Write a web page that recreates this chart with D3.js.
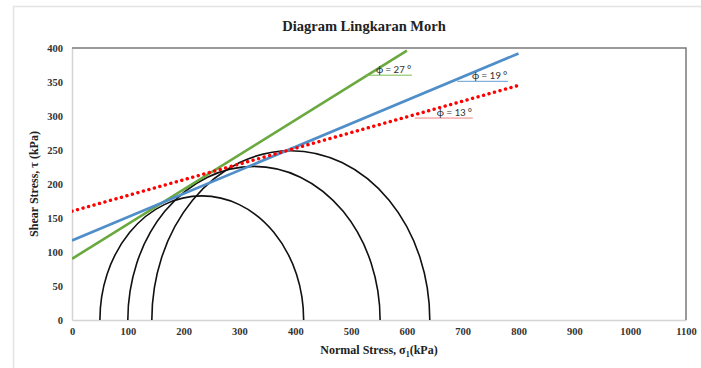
<!DOCTYPE html>
<html>
<head>
<meta charset="utf-8">
<script src="https://cdn.jsdelivr.net/npm/d3@7"></script>
<style>
  html, body { margin: 0; padding: 0; background: #fff; }
  svg { display: block; }
</style>
</head>
<body>
<svg id="chart" width="701" height="368"></svg>
<script>
// Mohr circles: minor and major principal stresses (kPa)
const sigma3 = [50, 100, 143];
const sigma1 = [415, 552, 641];

// Failure envelopes: end points (sigma, tau) in kPa
const envelopeNames = ["phi27", "phi19", "phi13"];
const envelopeSigma = [[0, 600], [0, 800], [0, 800]];
const envelopeTau = [[90, 396], [117, 392], [160, 345]];

// Envelope annotations
const annotText = ["\u03d5 = 27 \u00b0", "\u03d5 = 19 \u00b0", "\u03d5 = 13 \u00b0"];
const annotSigma = [[525, 609], [690, 781], [614, 718]];
const annotTau = [360, 351, 297];

// Axis ticks
const xTicks = [0, 100, 200, 300, 400, 500, 600, 700, 800, 900, 1000, 1100];
const yTicks = [0, 50, 100, 150, 200, 250, 300, 350, 400];

const svg = d3.select("#chart");
const plot = { left: 72, right: 686, top: 48, bottom: 320 };

const x = d3.scaleLinear().domain([0, 1100]).range([plot.left, plot.right]);
const y = d3.scaleLinear().domain([0, 400]).range([plot.bottom, plot.top]);

const styles = {
  phi27: { color: "#6aa840", width: 2.6, dash: null },
  phi19: { color: "#4f8ec9", width: 2.6, dash: null },
  phi13: { color: "#ff0000", width: 3.4, dash: "0.1 5.6" }
};
const annotColors = ["#7dbb55", "#6a9fd4", "#f08080"];

// outer chart frame
svg.append("rect")
  .attr("x", 13.5).attr("y", 6.5)
  .attr("width", 700).attr("height", 380)
  .attr("fill", "#fff").attr("stroke", "#e3e3e3").attr("stroke-width", 1.5);

// title
svg.append("text")
  .attr("x", 364).attr("y", 31)
  .attr("text-anchor", "middle")
  .attr("font-family", "'Liberation Serif', 'Times New Roman', serif")
  .attr("font-weight", "bold").attr("font-size", 14.5)
  .attr("fill", "#222")
  .text("Diagram Lingkaran  Morh");

// clip region for plotted series
svg.append("clipPath").attr("id", "plotClip")
  .append("rect")
  .attr("x", plot.left).attr("y", plot.top)
  .attr("width", plot.right - plot.left).attr("height", plot.bottom - plot.top);

// axes
const fmt = d3.format("d");
const xAxis = d3.axisBottom(x).tickValues(xTicks).tickFormat(fmt).tickSize(0).tickPadding(8);
const yAxis = d3.axisLeft(y).tickValues(yTicks).tickFormat(fmt).tickSize(0).tickPadding(9);

const gx = svg.append("g").attr("transform", `translate(0,${plot.bottom})`).call(xAxis);
const gy = svg.append("g").attr("transform", `translate(${plot.left},0)`).call(yAxis);
[gx, gy].forEach(g => {
  g.select(".domain").attr("stroke", "#d4d4d4").attr("stroke-width", 1.5);
  g.selectAll("text")
    .attr("font-family", "'Liberation Serif', 'Times New Roman', serif")
    .attr("font-weight", "bold").attr("font-size", 10.5)
    .attr("fill", "#333");
});

// top and right plot border
svg.append("path")
  .attr("d", `M${plot.left},${plot.top}H${plot.right}V${plot.bottom}`)
  .attr("fill", "none").attr("stroke", "#7a7a7a").attr("stroke-width", 1.5);

// axis titles
svg.append("text")
  .attr("x", 379).attr("y", 354)
  .attr("text-anchor", "middle")
  .attr("font-family", "'Liberation Serif', 'Times New Roman', serif")
  .attr("font-weight", "bold").attr("font-size", 12)
  .attr("fill", "#222")
  .call(t => {
    t.append("tspan").text("Normal Stress, \u03c3");
    t.append("tspan").attr("font-size", 8).attr("dy", 3).text("1");
    t.append("tspan").attr("dy", -3).text("(kPa)");
  });

svg.append("text")
  .attr("transform", `translate(38,${(plot.top + plot.bottom) / 2}) rotate(-90)`)
  .attr("text-anchor", "middle")
  .attr("font-family", "'Liberation Serif', 'Times New Roman', serif")
  .attr("font-weight", "bold").attr("font-size", 12)
  .attr("fill", "#222")
  .text("Shear Stress, \u03c4 (kPa)");

const series = svg.append("g").attr("clip-path", "url(#plotClip)");

// Mohr circles (upper half)
series.selectAll("path.circle")
  .data(sigma3.map((s3, i) => ({ s3, s1: sigma1[i] })))
  .join("path")
  .attr("class", "circle")
  .attr("d", d => {
    const r = (d.s1 - d.s3) / 2;
    const rx = x(r) - x(0);
    const ry = y(0) - y(r);
    return `M${x(d.s3)},${y(0)} A${rx},${ry} 0 0 1 ${x(d.s1)},${y(0)}`;
  })
  .attr("fill", "none").attr("stroke", "#111").attr("stroke-width", 1.6);

// failure envelopes
const line = d3.line().x(d => x(d[0])).y(d => y(d[1]));
envelopeNames.forEach((name, i) => {
  const pts = envelopeSigma[i].map((s, j) => [s, envelopeTau[i][j]]);
  const st = styles[name];
  series.append("path")
    .attr("d", line(pts))
    .attr("fill", "none")
    .attr("stroke", st.color)
    .attr("stroke-width", st.width)
    .attr("stroke-linecap", st.dash ? "round" : "butt")
    .attr("stroke-dasharray", st.dash);
});

// angle annotations
annotText.forEach((txt, i) => {
  svg.append("line")
    .attr("x1", x(annotSigma[i][0])).attr("x2", x(annotSigma[i][1]))
    .attr("y1", y(annotTau[i])).attr("y2", y(annotTau[i]))
    .attr("stroke", annotColors[i]).attr("stroke-width", 1);
  svg.append("text")
    .attr("x", x(annotSigma[i][1]) - 1)
    .attr("y", y(annotTau[i]) - 2)
    .attr("text-anchor", "end")
    .attr("font-family", "Carlito, 'Liberation Sans', sans-serif")
    .attr("font-size", 11)
    .attr("fill", "#333")
    .text(txt);
});
</script>
</body>
</html>
